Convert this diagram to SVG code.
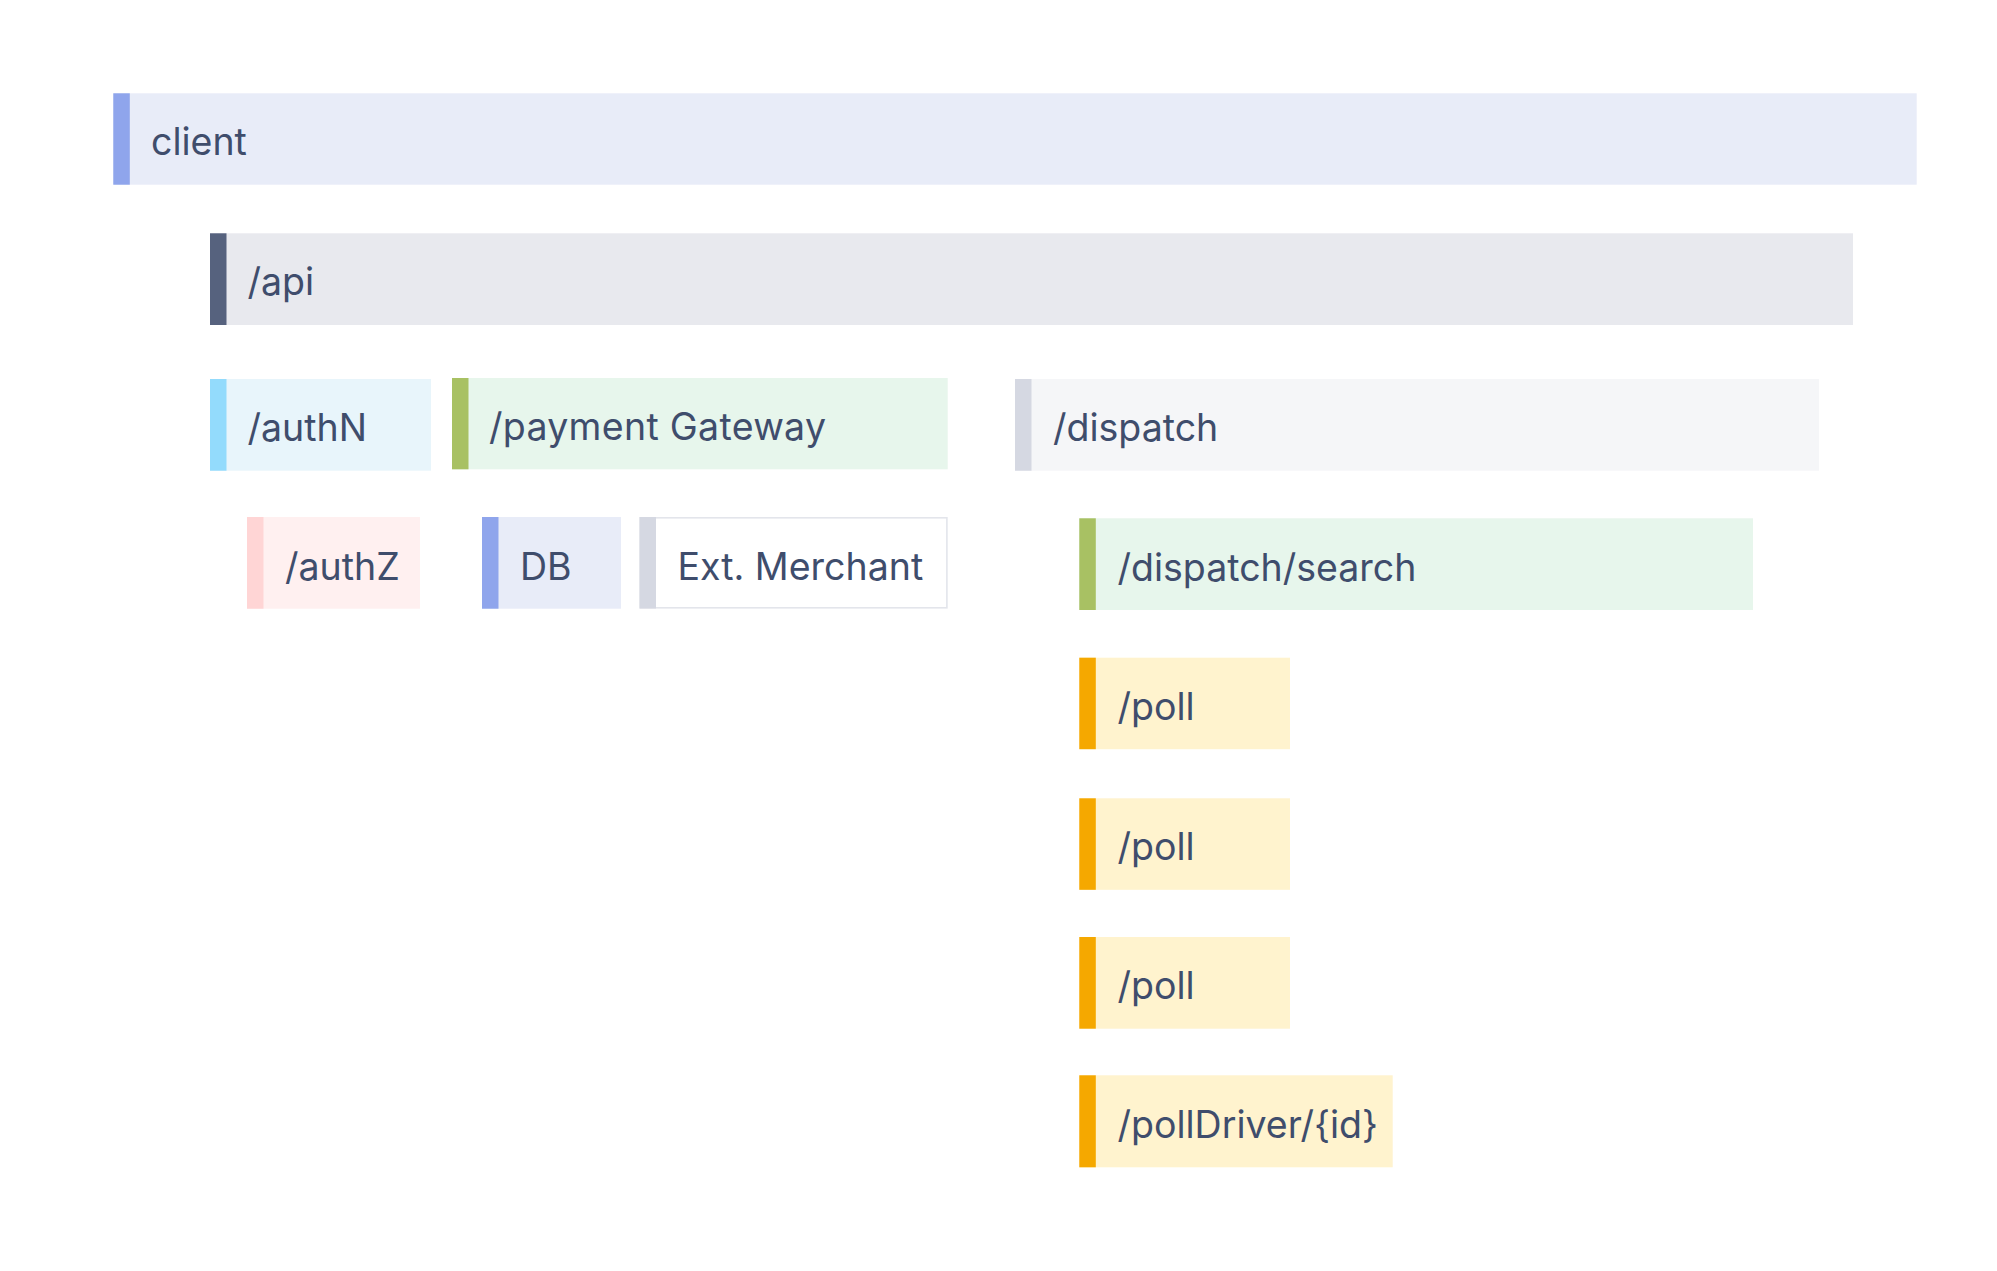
<svg xmlns="http://www.w3.org/2000/svg" width="1997" height="1271" viewBox="0 0 1997 1271">
<style>
text{font-family:Inter,"Noto Sans","Liberation Sans",sans-serif;font-size:37.5px;fill:#3F4D6C}
</style>
<rect width="1997" height="1271" fill="#FFFFFF"/>
<g id="connectors"/>
<g id="client">
<rect x="113.3" y="93.3" width="1803.4" height="91.4" fill="#E8ECF8"/>
<rect x="113.3" y="93.3" width="16.5" height="91.4" fill="#8FA5EC"/>
<text x="151" y="154.5">client</text>
</g>
<g id="api">
<rect x="210" y="233.3" width="1643" height="91.7" fill="#E8E9EE"/>
<rect x="210" y="233.3" width="16.5" height="91.7" fill="#56627E"/>
<text x="247.5" y="294.5">/api</text>
</g>
<g id="authN">
<rect x="210" y="379" width="221" height="91.7" fill="#E8F5FB"/>
<rect x="210" y="379" width="16.5" height="91.7" fill="#93DBFC"/>
<text x="247.5" y="441">/authN</text>
</g>
<g id="paymentGateway">
<rect x="452" y="378" width="495.7" height="91.3" fill="#E7F6EC"/>
<rect x="452" y="378" width="16.5" height="91.3" fill="#A8C163"/>
<text x="489" y="440" letter-spacing="0.3">/payment Gateway</text>
</g>
<g id="dispatch">
<rect x="1015" y="379" width="804" height="91.7" fill="#F5F6F8"/>
<rect x="1015" y="379" width="16.5" height="91.7" fill="#D5D8E2"/>
<text x="1053" y="441">/dispatch</text>
</g>
<g id="authZ">
<rect x="247" y="517" width="173" height="91.7" fill="#FFF0F0"/>
<rect x="247" y="517" width="16.5" height="91.7" fill="#FFD5D5"/>
<text x="285" y="579.5">/authZ</text>
</g>
<g id="db">
<rect x="482" y="517" width="139" height="91.7" fill="#E8ECF8"/>
<rect x="482" y="517" width="16.5" height="91.7" fill="#8FA5EC"/>
<text x="520" y="579.5">DB</text>
</g>
<g id="extMerchant">
<rect x="640.3" y="517.8" width="306.6" height="90" fill="#FFFFFF" stroke="#E3E5EB" stroke-width="1.6"/>
<rect x="639.5" y="517" width="16.5" height="91.5" fill="#D5D8E2"/>
<text x="677.5" y="579.5">Ext. Merchant</text>
</g>
<g id="dispatchSearch">
<rect x="1079.3" y="518.3" width="673.7" height="91.7" fill="#E7F6EC"/>
<rect x="1079.3" y="518.3" width="16.5" height="91.7" fill="#A8C163"/>
<text x="1117.5" y="580.5">/dispatch/search</text>
</g>
<g id="poll1">
<rect x="1079.3" y="657.7" width="210.7" height="91.5" fill="#FFF3CE"/>
<rect x="1079.3" y="657.7" width="16.5" height="91.5" fill="#F5A800"/>
<text x="1117.5" y="719.5">/poll</text>
</g>
<g id="poll2">
<rect x="1079.3" y="798.3" width="210.7" height="91.5" fill="#FFF3CE"/>
<rect x="1079.3" y="798.3" width="16.5" height="91.5" fill="#F5A800"/>
<text x="1117.5" y="860">/poll</text>
</g>
<g id="poll3">
<rect x="1079.3" y="937" width="210.7" height="91.7" fill="#FFF3CE"/>
<rect x="1079.3" y="937" width="16.5" height="91.7" fill="#F5A800"/>
<text x="1117.5" y="999">/poll</text>
</g>
<g id="pollDriver">
<rect x="1079.3" y="1075.3" width="313.4" height="92" fill="#FFF3CE"/>
<rect x="1079.3" y="1075.3" width="16.5" height="92" fill="#F5A800"/>
<text x="1117.5" y="1137.5">/pollDriver/{id}</text>
</g>
</svg>
